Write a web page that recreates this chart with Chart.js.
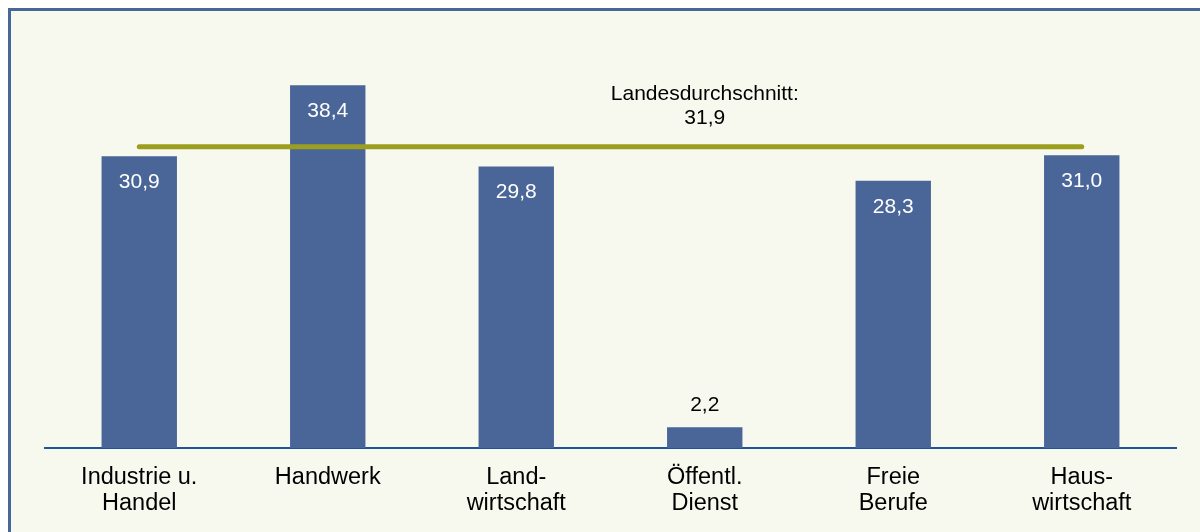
<!DOCTYPE html>
<html>
<head>
<meta charset="utf-8">
<script src="https://cdn.jsdelivr.net/npm/chart.js@4/dist/chart.umd.min.js"></script>
<style>
  html, body { margin: 0; padding: 0; background: #ffffff; width: 1200px; height: 532px; overflow: hidden; }
  #frame { position: absolute; left: 8px; top: 8px; width: 1300px; height: 700px;
           border-left: 3px solid #4A6699; border-top: 3px solid #4A6699; background: #F8F9EE; }
  #wrap { position: absolute; left: 0; top: 0; width: 1200px; height: 532px; }
</style>
</head>
<body>
<div id="frame"></div>
<div id="wrap"><canvas id="c" width="1200" height="532"></canvas></div>
<script>
const categories = [["Industrie u.", "Handel"], ["Handwerk"], ["Land-", "wirtschaft"], ["Öffentl.", "Dienst"], ["Freie", "Berufe"], ["Haus-", "wirtschaft"]];
const values = [30.9, 38.4, 29.8, 2.2, 28.3, 31.0];
const averageValue = 31.9;
const averageLabel = ["Landesdurchschnitt:", "31,9"];
const averageLine = categories.map(() => averageValue);

const FONT = "'Liberation Sans', Arial, sans-serif";
const fmt = v => v.toFixed(1).replace('.', ',');

const labelPlugin = {
  id: 'labels',
  afterDatasetsDraw(chart) {
    const ctx = chart.ctx;
    const meta = chart.getDatasetMeta(1);
    ctx.save();
    ctx.font = '21px ' + FONT;
    ctx.textAlign = 'center';
    ctx.textBaseline = 'middle';
    meta.data.forEach((el, i) => {
      const v = values[i];
      if (v > 5) {
        ctx.fillStyle = '#FFFFFF';
        ctx.fillText(fmt(v), el.x, el.y + 26);
      } else {
        ctx.fillStyle = '#000000';
        ctx.fillText(fmt(v), el.x, el.y - 22);
      }
    });
    const yAvg = chart.scales.y.getPixelForValue(averageValue);
    const xMid = chart.scales.x.getPixelForValue(3);
    ctx.fillStyle = '#000000';
    ctx.fillText(averageLabel[0], xMid, yAvg - 53);
    ctx.fillText(averageLabel[1], xMid, yAvg - 29);
    ctx.restore();
  }
};

new Chart(document.getElementById('c'), {
  data: {
    labels: categories,
    datasets: [
      {
        type: 'line',
        data: averageLine,
        borderColor: '#9C9E1E',
        borderWidth: 5,
        borderCapStyle: 'round',
        pointRadius: 0,
        fill: false,
        order: 0
      },
      {
        type: 'bar',
        data: values,
        backgroundColor: '#4A6699',
        categoryPercentage: 1.0,
        barPercentage: 0.4,
        order: 1
      }
    ]
  },
  options: {
    responsive: false,
    animation: false,
    layout: { padding: { left: 45, right: 24, top: 23, bottom: 0 } },
    plugins: { legend: { display: false }, tooltip: { enabled: false } },
    scales: {
      x: {
        grid: { display: false, drawTicks: false },
        border: { display: true, color: '#1F5598', width: 2 },
        ticks: { color: '#000000', font: { family: FONT, size: 23.5, lineHeight: 1.12 }, padding: 16, maxRotation: 0, autoSkip: false },
        afterFit: s => { s.height = 84; }
      },
      y: {
        display: false,
        min: 0,
        max: 45
      }
    }
  },
  plugins: [labelPlugin]
});
</script>
</body>
</html>
